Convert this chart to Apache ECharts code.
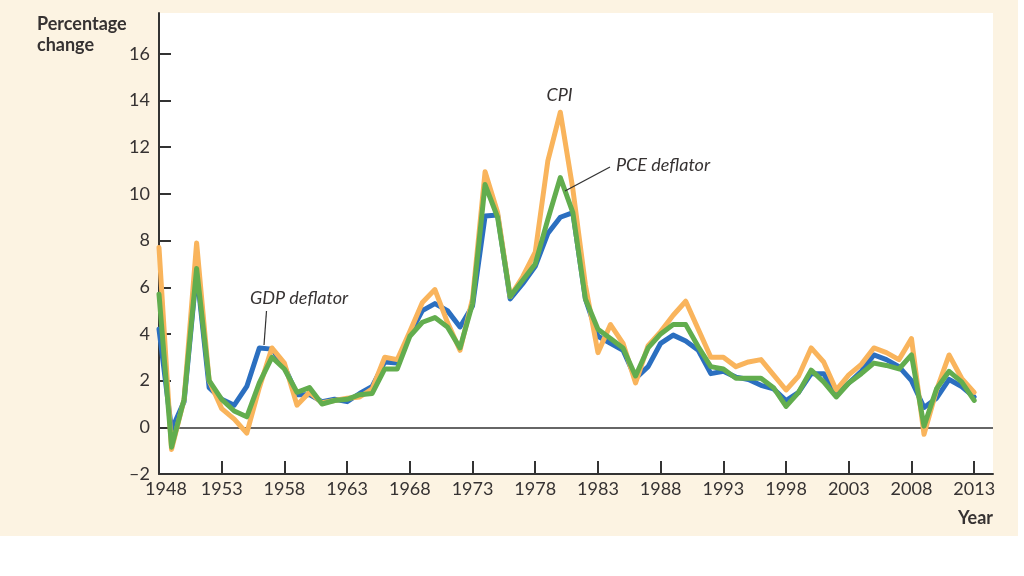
<!DOCTYPE html>
<html>
<head>
<meta charset="utf-8">
<script src="https://cdn.jsdelivr.net/npm/echarts@6/dist/echarts.min.js"></script>
<style>
  html, body { margin: 0; padding: 0; background: #ffffff; }
  #chart { width: 1024px; height: 576px; }
</style>
</head>
<body>
<div id="chart"></div>
<script>
// ---- data ----
const years = [];
for (let y = 1948; y <= 2013; y++) years.push(y);

const gdpDeflator = [4.2, -0.1, 1.1, 6.7, 1.7, 1.2, 0.95, 1.75, 3.4, 3.35,
  2.6, 1.4, 1.4, 1.1, 1.2, 1.1, 1.45, 1.75, 2.8, 2.75,
  4.0, 5.0, 5.3, 5.0, 4.3, 5.2, 9.05, 9.1, 5.5, 6.15,
  6.9, 8.3, 9.0, 9.2, 5.5, 3.9, 3.6, 3.3, 2.1, 2.6,
  3.6, 3.95, 3.7, 3.3, 2.3, 2.4, 2.15, 2.05, 1.8, 1.65,
  1.15, 1.5, 2.3, 2.3, 1.4, 1.9, 2.4, 3.1, 2.9, 2.6,
  2.0, 0.85, 1.25, 2.05, 1.75, 1.3];

const cpi = [7.7, -0.95, 1.2, 7.9, 2.0, 0.8, 0.35, -0.25, 1.7, 3.4,
  2.75, 0.95, 1.5, 1.05, 1.15, 1.25, 1.3, 1.65, 3.0, 2.9,
  4.1, 5.35, 5.9, 4.5, 3.3, 5.5, 10.95, 9.2, 5.6, 6.45,
  7.5, 11.4, 13.5, 10.2, 6.1, 3.2, 4.4, 3.6, 1.9, 3.5,
  4.1, 4.8, 5.4, 4.2, 3.0, 3.0, 2.6, 2.8, 2.9, 2.25,
  1.6, 2.2, 3.4, 2.8, 1.6, 2.25, 2.7, 3.4, 3.2, 2.9,
  3.8, -0.3, 1.6, 3.1, 2.1, 1.5];

const pceDeflator = [5.7, -0.85, 1.2, 6.8, 2.0, 1.2, 0.7, 0.45, 1.9, 3.0,
  2.5, 1.5, 1.7, 1.0, 1.15, 1.2, 1.4, 1.45, 2.5, 2.5,
  3.9, 4.5, 4.7, 4.3, 3.4, 5.3, 10.4, 9.0, 5.6, 6.3,
  7.0, 8.9, 10.7, 9.2, 5.5, 4.2, 3.8, 3.4, 2.2, 3.4,
  4.0, 4.4, 4.4, 3.45, 2.6, 2.5, 2.1, 2.1, 2.1, 1.7,
  0.9, 1.5, 2.45, 1.95, 1.3, 1.9, 2.3, 2.75, 2.65, 2.5,
  3.1, 0.05, 1.65, 2.4, 1.95, 1.15];

const xTicks = [1948, 1953, 1958, 1963, 1968, 1973, 1978, 1983, 1988, 1993, 1998, 2003, 2008, 2013];
const yTicks = [-2, 0, 2, 4, 6, 8, 10, 12, 14, 16];

const pair = arr => years.map((y, i) => [y, arr[i]]);

const FONT = 'Lato';
const TXT = '#363232';

const chart = echarts.init(document.getElementById('chart'), null, { renderer: 'canvas' });

const lineSeries = (name, arr, color, extra) => Object.assign({
  name: name,
  type: 'line',
  data: pair(arr),
  showSymbol: false,
  symbol: 'none',
  silent: true,
  animation: false,
  lineStyle: { color: color, width: 5, join: 'round', cap: 'round' }
}, extra || {});

chart.setOption({
  backgroundColor: '#ffffff',
  animation: false,
  grid: {
    left: 159, right: 31, top: 13, bottom: 102,
    containLabel: false,
    outerBoundsMode: 'none',
    show: true,
    backgroundColor: '#ffffff',
    borderWidth: 0
  },
  xAxis: {
    type: 'value',
    min: 1948,
    max: 2014.5,
    splitLine: { show: false },
    axisLine: { show: true, onZero: false, lineStyle: { color: '#333', width: 2 } },
    axisTick: { show: true, inside: true, length: 13, customValues: xTicks, lineStyle: { color: '#333', width: 2 } },
    axisLabel: {
      customValues: xTicks,
      fontFamily: FONT, fontSize: 18, color: TXT, margin: 6,
      formatter: v => v === 1948 ? '{a|1948}' : String(v),
      rich: { a: { fontFamily: FONT, fontSize: 18, color: TXT, padding: [0, 0, 0, 14] } }
    }
  },
  yAxis: {
    type: 'value',
    min: -2,
    max: 17.75,
    splitLine: { show: false },
    axisLine: { show: true, onZero: false, lineStyle: { color: '#333', width: 2 } },
    axisTick: { show: true, inside: true, length: 12, customValues: yTicks, lineStyle: { color: '#333', width: 2 } },
    axisLabel: {
      customValues: yTicks,
      fontFamily: FONT, fontSize: 18, color: TXT, margin: 9,
      formatter: v => v < 0 ? '\u2013' + Math.abs(v) : String(v)
    }
  },
  series: [
    lineSeries('GDP deflator', gdpDeflator, '#2b6fc0', {
      markLine: {
        silent: true, z: 1, symbol: ['none', 'none'],
        label: { show: false },
        lineStyle: { color: '#333', width: 1.5, type: 'solid' },
        data: [{ yAxis: 0 }]
      }
    }),
    lineSeries('CPI', cpi, '#f9b45c'),
    lineSeries('PCE deflator', pceDeflator, '#62ad4e')
  ],
  graphic: [
    { type: 'rect', z: -10, silent: true, shape: { x: 0, y: 0, width: 1018, height: 536 }, style: { fill: '#fcf3e2' } },
    { type: 'text', z: 10, left: 37, top: 14, style: { text: 'Percentage\nchange', fontFamily: FONT, fontWeight: 'bold', fontSize: 18, lineHeight: 21, fill: TXT } },
    { type: 'text', z: 10, right: 31, top: 509, style: { text: 'Year', fontFamily: FONT, fontWeight: 'bold', fontSize: 18, fill: TXT } },
    { type: 'text', z: 10, x: 559.5, y: 95, style: { text: 'CPI', fontFamily: FONT, fontStyle: 'italic', fontSize: 18, fill: TXT, align: 'center', verticalAlign: 'middle' } },
    { type: 'text', z: 10, x: 616, y: 165, style: { text: 'PCE deflator', fontFamily: FONT, fontStyle: 'italic', fontSize: 18, fill: TXT, align: 'left', verticalAlign: 'middle' } },
    { type: 'text', z: 10, x: 250, y: 298, style: { text: 'GDP deflator', fontFamily: FONT, fontStyle: 'italic', fontSize: 18, fill: TXT, align: 'left', verticalAlign: 'middle' } },
    { type: 'line', z: 10, shape: { x1: 610, y1: 167, x2: 565, y2: 191 }, style: { stroke: '#333', lineWidth: 1.2 } },
    { type: 'line', z: 10, shape: { x1: 266.5, y1: 311, x2: 264, y2: 345 }, style: { stroke: '#333', lineWidth: 1.2 } }
  ]
});
</script>
</body>
</html>
